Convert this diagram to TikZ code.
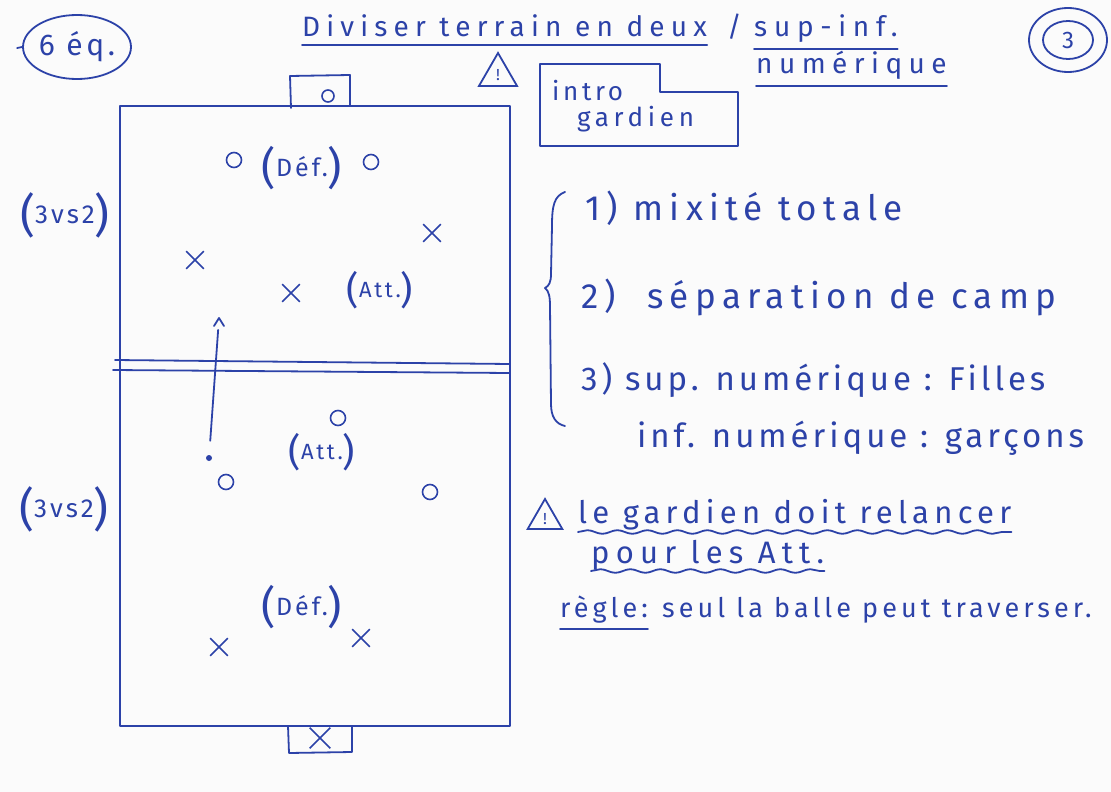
\documentclass[tikz,border=0pt]{standalone}
\usepackage{fontspec}
\newfontfamily\hand{Fira Sans}[LetterSpace=12]
\usetikzlibrary{shapes.geometric,shapes.misc,arrows.meta,decorations.pathmorphing}
\definecolor{ink}{RGB}{44,66,168}
\definecolor{paper}{RGB}{251,251,251}
\newcommand{\bp}[2]{\raisebox{-0.28em}{\fontsize{#1pt}{#1pt}\selectfont(}#2\raisebox{-0.28em}{\fontsize{#1pt}{#1pt}\selectfont)}}
\tikzset{
  inkline/.style={draw=ink, line width=1.8pt, line cap=round, line join=round},
  txt/.style args={#1/#2}{text=ink, inner sep=0pt, anchor=base west, font=\hand\fontsize{#1pt}{#1pt}\selectfont\addfontfeatures{LetterSpace=#2}},
  lbl/.style={text=ink, inner sep=0pt, anchor=center, font=\hand\fontsize{#1pt}{#1pt}\selectfont},
  ostyle/.style={circle, draw=ink, line width=1.6pt, minimum size=15pt, inner sep=0pt},
  xstyle/.style={cross out, draw=ink, line width=1.6pt, minimum size=16pt, inner sep=0pt},
  warn/.style={regular polygon, regular polygon sides=3, draw=ink, line width=1.8pt, inner sep=0pt, text=ink, font=\hand\fontsize{16pt}{16pt}\selectfont},
  wavy/.style={inkline, decorate, decoration={snake, amplitude=1.8pt, segment length=30pt}},
  ballstyle/.style={circle, fill=ink, minimum size=6pt, inner sep=0pt},
}
\begin{document}
\begin{tikzpicture}[x=1pt,y=-1pt]
\useasboundingbox (0,0) rectangle (1111,792);
\fill[paper] (0,0) rectangle (1111,792);

% header
\node[ellipse, draw=ink, line width=1.8pt, minimum width=108pt, minimum height=64pt, inner sep=0pt, text=ink, font=\hand\fontsize{30pt}{30pt}\selectfont] (teams) at (77,47) {6 éq.};
\draw[inkline] (teams.west) -- +(-5,1);

\node[txt=28/22] (title) at (302,37) {Diviser terrain en deux};
\draw[inkline] ([yshift=-8pt]title.base west) -- ([yshift=-8pt]title.base east);
\node[txt=28/12] (slash) at (727,37) {/};
\node[txt=28/24] (supinf) at (754,37) {sup-inf.};
\draw[inkline] ([yshift=-12pt]supinf.base west) -- ([yshift=-12pt]supinf.base east);
\node[txt=28/23] (numq) at (756,74) {numérique};
\draw[inkline] ([yshift=-12pt]numq.base west) -- ([yshift=-12pt]numq.base east);

\node[ellipse, draw=ink, line width=1.8pt, minimum width=50pt, minimum height=38pt, inner sep=0pt, text=ink, font=\hand\fontsize{24pt}{24pt}\selectfont] (three) at (1068,40) {3};
\draw[inkline] (three.center) ellipse [x radius=39, y radius=32];

\node[warn, minimum size=44pt] (warnA) at (498,75) {!};

\draw[inkline] (540,64) -- (660,64) -- (660,92) -- (738,92) -- (738,146) -- (540,146) -- cycle;
\node[txt=26/14] (intro) at (552,100) {intro};
\node[txt=26/18] (gard) at (577,126) {gardien};

% field
\draw[inkline] (120,106) rectangle (510,726);
\draw[inkline] (291,108) -- (290,76) -- (350,75) -- (350,106);
\node[ostyle, minimum size=12pt] (gkA) at (328,96) {};
\draw[inkline] (288,726) -- (289,753) -- (352,752) -- (352,726);
\node[xstyle, minimum size=19pt] (gkB) at (320,738) {};
\draw[inkline] (115,360) -- (510,364);
\draw[inkline] (113,370) -- (510,373);

\node[lbl=26] (s1) at (65,215) {\bp{46}{3vs2}};
\node[lbl=26] (s2) at (64,509) {\bp{46}{3vs2}};

% top half
\node[ostyle] (oA) at (234,160) {};
\node[lbl=25] (defA) at (302,168) {\bp{44}{Déf.}};
\node[ostyle] (oB) at (371,162) {};
\node[xstyle] (xA) at (432,233) {};
\node[xstyle] (xB) at (195,260) {};
\node[xstyle] (xC) at (291,293) {};
\node[lbl=22] (attA) at (380,290) {\bp{38}{Att.}};

% bottom half
\node[ostyle] (oC) at (338,418) {};
\node[lbl=22] (attB) at (322,452) {\bp{38}{Att.}};
\node[ostyle] (oD) at (226,482) {};
\node[ostyle] (oE) at (430,492) {};
\node[lbl=25] (defB) at (302,607) {\bp{44}{Déf.}};
\node[xstyle] (xD) at (219,647) {};
\node[xstyle] (xE) at (361,638) {};

% pass
\node[ballstyle] (ball) at (209,458) {};
\coordinate (passtip) at (219,318);
\draw[inkline, shorten <=14pt, shorten >=12pt] (ball) -- (passtip);
\draw[inkline] ([shift={(-5,8)}]passtip) -- (passtip) -- ([shift={(5,8)}]passtip);

% right side list
\draw[inkline] (565,192) .. controls (554,196) and (552,206) .. (552,226) -- (551,274) .. controls (551,282) and (549,286) .. (545,288) .. controls (549,291) and (550,297) .. (550,306) -- (551,404) .. controls (551,417) and (556,424) .. (565,426);
\node[txt=35/18] (l1) at (585,220) {1)\ mixité totale};
\node[txt=35/18] (l2) at (581,308) {2)\ \ séparation de camp};
\node[txt=33/12] (l3) at (581,390) {3)\ sup. numérique : Filles};
\node[txt=33/12] (l4) at (637,447) {inf. numérique : garçons};

\node[warn, minimum size=40pt] (warnB) at (545,519) {!};
\node[txt=31/17] (w1) at (578,523) {le gardien doit relancer};
\draw[wavy] ([yshift=-9pt]w1.base west) -- ([yshift=-9pt]w1.base east);
\node[txt=31/20] (w2) at (591,563) {pour les Att.};
\draw[wavy] ([yshift=-8pt]w2.base west) -- ([yshift=-8pt]w2.base east);

\node[txt=27/15] (r1) at (560,617) {règle:};
\draw[inkline] ([yshift=-12pt]r1.base west) -- ([yshift=-12pt]r1.base east);
\node[txt=27/15] (r2) at ([xshift=14pt]r1.base east) {seul la balle peut traverser.};
\end{tikzpicture}
\end{document}
